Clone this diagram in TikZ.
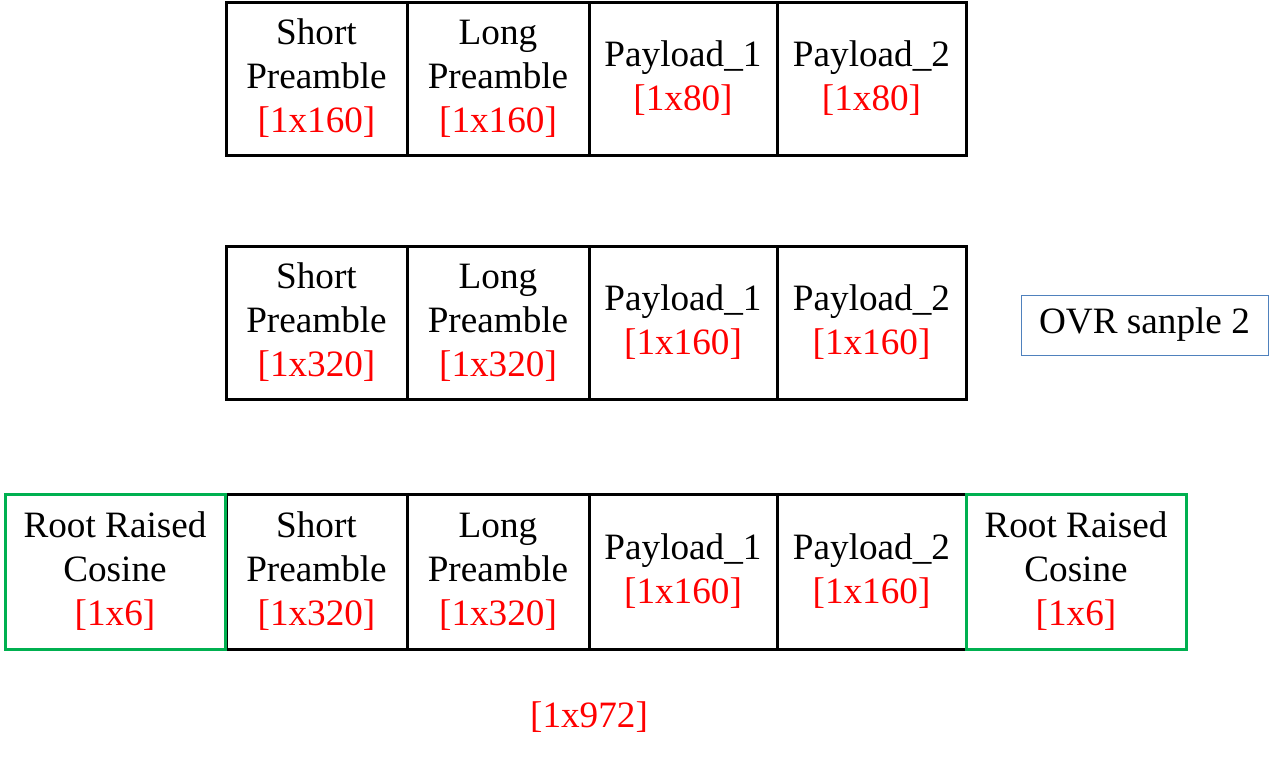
\documentclass[tikz,border=0pt]{standalone}
\usepackage{fontspec}
\setmainfont{Liberation Serif}
\usetikzlibrary{positioning}
\definecolor{sizered}{HTML}{FF0000}
\definecolor{rrcgreen}{HTML}{00B050}
\definecolor{ovrblue}{HTML}{4F81BD}
\tikzset{
  cell/.style={draw=black,line width=1.5pt,inner sep=0pt,outer sep=0pt,align=center,
    font=\fontsize{18.6}{22}\selectfont},
  rrcbox/.style={cell,draw=rrcgreen},
  ovrbox/.style={draw=ovrblue,line width=0.5pt,inner sep=0pt,outer sep=0pt,
    minimum width=123.5pt,minimum height=30pt,font=\fontsize{18.6}{22}\selectfont},
  sizelbl/.style={text=sizered,font=\fontsize{18.6}{22}\selectfont}
}
\newcommand{\sizetag}[1]{\textcolor{sizered}{[1x#1]}}
\begin{document}
\begin{tikzpicture}[x=0.5pt,y=-0.5pt]
  \useasboundingbox (0,0) rectangle (1271,761);
  % three frames
  \foreach \row/\top/\bot/\sa/\sb in {1/2/155/160/80, 2/246/399/320/160, 3/494/649/320/160}{
    \foreach \c/\l/\r/\txt/\sz in {1/226/407/{Short\\Preamble}/\sa, 2/407/589/{Long\\Preamble}/\sa,
        3/589/777/{Payload\_1}/\sb, 4/777/966/{Payload\_2}/\sb}{
      \pgfmathsetmacro\w{(\r-\l)*0.5}
      \pgfmathsetmacro\h{(\bot-\top)*0.5}
      \node[cell,minimum width=\w pt,minimum height=\h pt] (r\row c\c)
        at ({(\l+\r)/2},{(\top+\bot)/2}) {\txt\\\sizetag{\sz}};
    }
  }
  % filter taps on both ends
  \node[rrcbox,minimum width=110pt,minimum height=77.5pt] (rrcleft) at (115,571.5)
    {Root Raised\\Cosine\\\sizetag{6}};
  \node[rrcbox,minimum width=110pt,minimum height=77.5pt] (rrcright) at (1076,571.5)
    {Root Raised\\Cosine\\\sizetag{6}};
  \node[ovrbox] (ovr) at (1144.5,325) {OVR sanple 2};
  \node[sizelbl] (total) at (589,717) {[1x972]};
\end{tikzpicture}
\end{document}
